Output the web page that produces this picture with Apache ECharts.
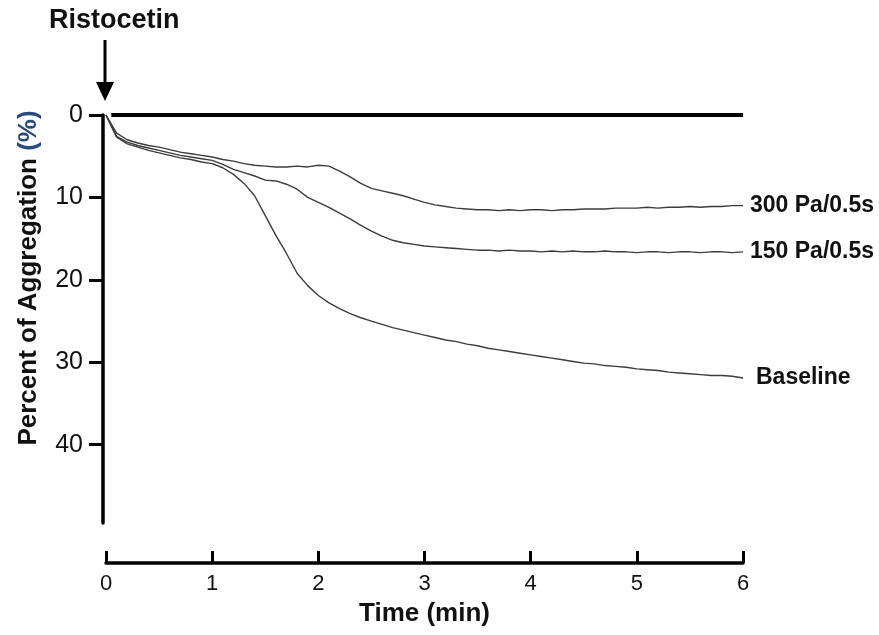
<!DOCTYPE html>
<html>
<head>
<meta charset="utf-8">
<script src="https://cdn.jsdelivr.net/npm/echarts@6/dist/echarts.min.js"></script>
<style>
html,body{margin:0;padding:0;background:#fff;}
#chart{width:879px;height:635px;}
</style>
</head>
<body>
<div id="chart"></div>
<script>
// ---- data (minutes, percent of aggregation) ----
const times = [0,0.1,0.2,0.3,0.4,0.5,0.6,0.7,0.8,0.9,1.0,1.1,1.2,1.3,1.4,1.5,1.6,1.7,1.8,1.9,2.0,
  2.1,2.2,2.3,2.4,2.5,2.6,2.7,2.8,2.9,3.0,3.1,3.2,3.3,3.4,3.5,3.6,3.7,3.8,3.9,4.0,
  4.1,4.2,4.3,4.4,4.5,4.6,4.7,4.8,4.9,5.0,5.1,5.2,5.3,5.4,5.5,5.6,5.7,5.8,5.9,6.0];
const baseline = [0,2.7,3.5,3.9,4.3,4.6,4.9,5.2,5.4,5.7,5.9,6.4,7.2,8.3,9.8,12.2,14.6,16.8,19.2,20.7,21.9,
  22.8,23.5,24.1,24.6,25.0,25.4,25.8,26.1,26.4,26.7,27.0,27.3,27.5,27.8,28.0,28.3,28.5,28.7,28.9,29.1,
  29.3,29.5,29.7,29.9,30.1,30.2,30.4,30.5,30.6,30.8,30.9,31.0,31.2,31.3,31.4,31.5,31.6,31.6,31.7,31.9];
const pa300 = [0,2.2,3.0,3.4,3.7,3.9,4.2,4.5,4.7,4.9,5.1,5.4,5.6,5.9,6.1,6.2,6.3,6.3,6.2,6.3,6.1,
  6.2,6.8,7.5,8.3,8.9,9.2,9.5,9.8,10.2,10.6,10.9,11.1,11.3,11.4,11.5,11.5,11.6,11.5,11.6,11.5,
  11.5,11.6,11.5,11.5,11.4,11.4,11.4,11.3,11.3,11.3,11.2,11.3,11.2,11.2,11.1,11.2,11.1,11.1,11.0,11.0];
const pa150 = [0,2.6,3.3,3.7,4.0,4.3,4.6,4.9,5.1,5.3,5.5,6.0,6.6,7.0,7.4,7.9,8.0,8.4,9.0,10.0,10.6,
  11.2,11.9,12.6,13.4,14.1,14.7,15.2,15.5,15.7,15.9,16.0,16.1,16.2,16.3,16.4,16.4,16.5,16.4,16.5,16.5,
  16.6,16.5,16.6,16.5,16.6,16.6,16.5,16.6,16.6,16.7,16.6,16.6,16.7,16.6,16.6,16.7,16.6,16.6,16.7,16.6];
const seriesNames = ['300 Pa/0.5s','150 Pa/0.5s','Baseline'];
const yTicks = [0,10,20,30,40];
const xTicks = [0,1,2,3,4,5,6];
const zeroLine = [0.05, 6];

const font = '"Liberation Sans", Arial, Helvetica, sans-serif';
const pair = (vals) => times.map((t, i) => [t, vals[i]]);

const chart = echarts.init(document.getElementById('chart'), null, {renderer: 'canvas'});

const lineStyle = {color: '#3c3c3c', width: 1.4};
function mkSeries(name, vals, dist) {
  return {
    name: name, type: 'line', data: pair(vals), showSymbol: false, symbol: 'none',
    lineStyle: lineStyle, animation: false, clip: false,
    endLabel: {show: true, formatter: '{a}', fontFamily: font, fontWeight: 'bold',
      fontSize: 23, color: '#111', distance: dist}
  };
}

const option = {
  backgroundColor: '#fff',
  animation: false,
  grid: {left: 106, right: 136, top: 115, bottom: 112},
  xAxis: {
    type: 'value', min: 0, max: 6, interval: 1, position: 'bottom', offset: 40,
    axisLine: {show: true, onZero: false, lineStyle: {color: '#000', width: 3.5}},
    axisTick: {show: true, inside: true, length: 12, lineStyle: {color: '#000', width: 3}, customValues: xTicks},
    axisLabel: {fontFamily: font, fontSize: 22, color: '#111', margin: 10, customValues: xTicks},
    splitLine: {show: false},
    name: 'Time (min)', nameLocation: 'middle', nameGap: 38,
    nameTextStyle: {fontFamily: font, fontWeight: 'bold', fontSize: 26, color: '#111'}
  },
  yAxis: {
    type: 'value', min: 0, max: 49.5, inverse: true, offset: 3,
    axisLine: {show: true, onZero: false, lineStyle: {color: '#000', width: 3.5}},
    axisTick: {show: true, inside: false, length: 14, lineStyle: {color: '#000', width: 3}, customValues: yTicks},
    axisLabel: {fontFamily: font, fontSize: 25, color: '#111', margin: 20, customValues: yTicks},
    splitLine: {show: false}
  },
  series: [
    Object.assign(mkSeries(seriesNames[0], pa300, 7), {
      markLine: {
        silent: true, symbol: ['none','none'], label: {show: false}, animation: false,
        lineStyle: {color: '#000', width: 4, type: 'solid'},
        data: [[{coord: [zeroLine[0], 0]}, {coord: [zeroLine[1], 0]}]]
      }
    }),
    mkSeries(seriesNames[1], pa150, 7),
    mkSeries(seriesNames[2], baseline, 13)
  ],
  graphic: [
    {type: 'text', left: 49, top: 7, style: {text: 'Ristocetin', font: 'bold 27px ' + font, fill: '#111'}},
    {type: 'line', shape: {x1: 105, y1: 40, x2: 105, y2: 84}, style: {stroke: '#000', lineWidth: 3}},
    {type: 'polygon', shape: {points: [[96, 82], [114, 82], [105, 101]]}, style: {fill: '#000'}},
    {type: 'text', x: 29, y: 278, rotation: Math.PI / 2,
      style: {
        text: 'Percent of Aggregation {p|(%)}',
        font: 'bold 26px ' + font, fill: '#111', align: 'center', verticalAlign: 'middle',
        rich: {p: {font: 'bold 26px ' + font, fill: '#2b4a7e', fontWeight: 'bold', fontSize: 26, fontFamily: font}}
      }
    }
  ]
};
chart.setOption(option);
</script>
</body>
</html>
